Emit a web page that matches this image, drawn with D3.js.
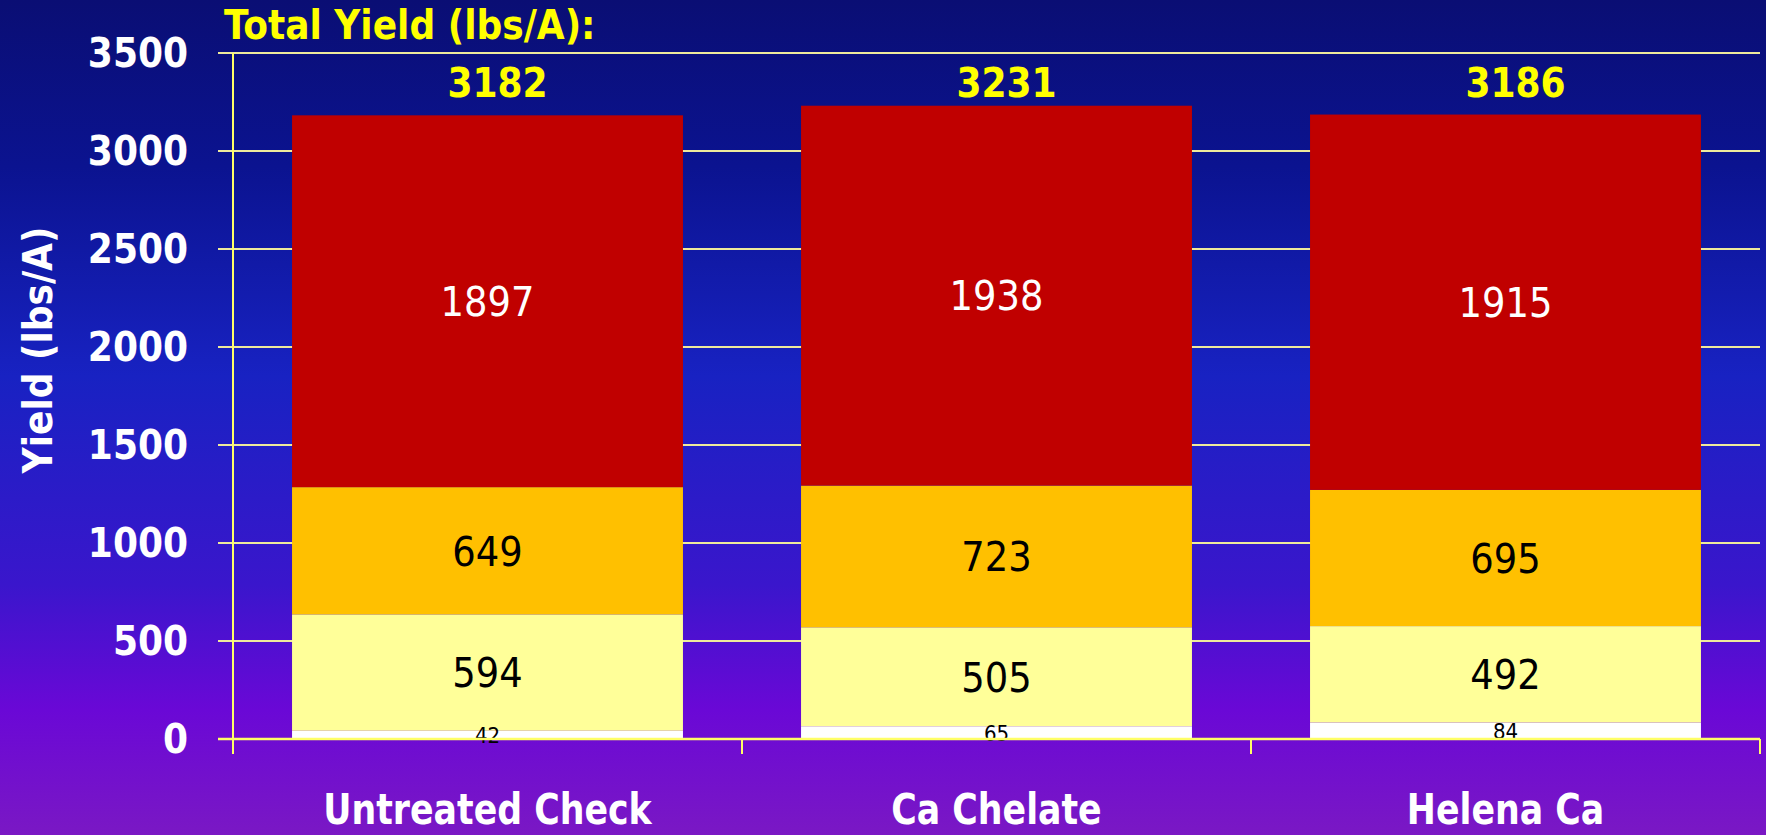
<!DOCTYPE html>
<html>
<head>
<meta charset="utf-8">
<script src="https://cdn.jsdelivr.net/npm/d3@7"></script>
<style>
  html, body { margin: 0; padding: 0; background: #1a1fb0; }
  svg { display: block; }
</style>
</head>
<body>
<svg id="chart" width="1766" height="835"></svg>
<script>
const categories = ["Untreated Check", "Ca Chelate", "Helena Ca"];
const seriesNames = ["s1", "s2", "s3", "s4"];
const s1 = [42, 65, 84];
const s2 = [594, 505, 492];
const s3 = [649, 723, 695];
const s4 = [1897, 1938, 1915];
const totals = [3182, 3231, 3186];
const yTicks = [0, 500, 1000, 1500, 2000, 2500, 3000, 3500];

const seriesColors = ["#ffffff", "#ffff99", "#ffc000", "#c00000"];
const labelColors = ["#000000", "#000000", "#000000", "#ffffff"];
const labelSizes = [22, 41, 41, 41];

const FONT = "'DejaVu Sans Condensed', 'DejaVu Sans', sans-serif";

const svg = d3.select("#chart");
const W = 1766, H = 835;

// background gradient
const defs = svg.append("defs");
const grad = defs.append("linearGradient").attr("id", "bg").attr("x1", 0).attr("y1", 0).attr("x2", 0).attr("y2", 1);
[[0, "#0a0e74"], [0.2, "#0b1390"], [0.45, "#1822c2"], [0.7, "#3a16cc"], [0.85, "#6a08d6"], [1, "#7a18c4"]]
  .forEach(([o, c]) => grad.append("stop").attr("offset", o).attr("stop-color", c));
svg.append("rect").attr("width", W).attr("height", H).attr("fill", "url(#bg)");

const mLeft = 233, mRight = 1760, mTop = 53, mBottom = 739;
const y = d3.scaleLinear().domain([0, 3500]).range([mBottom, mTop]);
const x = d3.scaleBand().domain(categories).range([mLeft, mRight]).padding(0);
const barFrac = 0.768;

// gridlines
svg.append("g").selectAll("line").data(yTicks.filter(d => d > 0)).join("line")
  .attr("x1", mLeft - 15).attr("x2", mRight)
  .attr("y1", d => y(d)).attr("y2", d => y(d))
  .attr("stroke", "#eeea9c").attr("stroke-width", 2.2);

// stacked data
const rows = categories.map((c, i) => ({cat: c, s1: s1[i], s2: s2[i], s3: s3[i], s4: s4[i]}));
const stack = d3.stack().keys(seriesNames)(rows);

const bw = x.bandwidth() * barFrac;
const bx = c => x(c) + (x.bandwidth() - bw) / 2;

const layers = svg.append("g").selectAll("g").data(stack).join("g")
  .attr("fill", (d, i) => seriesColors[i]);
layers.selectAll("rect").data(d => d).join("rect")
  .attr("x", d => bx(d.data.cat))
  .attr("width", bw)
  .attr("y", d => y(d[1]))
  .attr("height", d => y(d[0]) - y(d[1]));

// segment labels
stack.forEach((layer, i) => {
  svg.append("g").selectAll("text").data(layer).join("text")
    .attr("x", d => x(d.data.cat) + x.bandwidth() / 2)
    .attr("y", d => (y(d[0]) + y(d[1])) / 2)
    .attr("dy", "0.36em")
    .attr("text-anchor", "middle")
    .attr("font-family", FONT)
    .attr("font-size", labelSizes[i])
    .attr("fill", labelColors[i])
    .text(d => d[1] - d[0]);
});

// x axis line + ticks
svg.append("line").attr("x1", mLeft - 15).attr("x2", mRight).attr("y1", mBottom).attr("y2", mBottom)
  .attr("stroke", "#ffff66").attr("stroke-width", 2.5);
const xTickPos = categories.map(c => x(c)).concat([mRight]);
svg.append("g").selectAll("line").data(xTickPos).join("line")
  .attr("x1", d => d).attr("x2", d => d).attr("y1", mBottom).attr("y2", mBottom + 15)
  .attr("stroke", "#ffff66").attr("stroke-width", 2);

// y axis line
svg.append("line").attr("x1", mLeft).attr("x2", mLeft).attr("y1", mTop).attr("y2", mBottom + 15)
  .attr("stroke", "#ffff66").attr("stroke-width", 2);

// y tick labels
svg.append("g").selectAll("text").data(yTicks).join("text")
  .attr("x", 188).attr("y", d => y(d)).attr("dy", "0.36em")
  .attr("text-anchor", "end")
  .attr("font-family", FONT).attr("font-weight", "bold").attr("font-size", 40)
  .attr("fill", "#ffffff")
  .text(d => d);

// category labels (slightly narrowed to match original condensed face)
svg.append("g").selectAll("text").data(categories).join("text")
  .attr("transform", d => `translate(${x(d) + x.bandwidth() / 2},824) scale(0.92,1)`)
  .attr("text-anchor", "middle")
  .attr("font-family", FONT).attr("font-weight", "bold").attr("font-size", 42)
  .attr("fill", "#ffffff")
  .text(d => d);

// totals
svg.append("g").selectAll("text").data(categories).join("text")
  .attr("x", d => x(d) + x.bandwidth() / 2 + 10).attr("y", 97)
  .attr("text-anchor", "middle")
  .attr("font-family", FONT).attr("font-weight", "bold").attr("font-size", 40)
  .attr("fill", "#ffff00")
  .text((d, i) => totals[i]);

// title
svg.append("text").attr("x", 224).attr("y", 39)
  .attr("font-family", FONT).attr("font-weight", "bold").attr("font-size", 40)
  .attr("fill", "#ffff00")
  .text("Total Yield (lbs/A):");

// y axis title
svg.append("text")
  .attr("transform", "translate(52,350) rotate(-90)")
  .attr("text-anchor", "middle")
  .attr("font-family", FONT).attr("font-weight", "bold").attr("font-size", 40)
  .attr("fill", "#ffffff")
  .text("Yield (lbs/A)");
</script>
</body>
</html>
